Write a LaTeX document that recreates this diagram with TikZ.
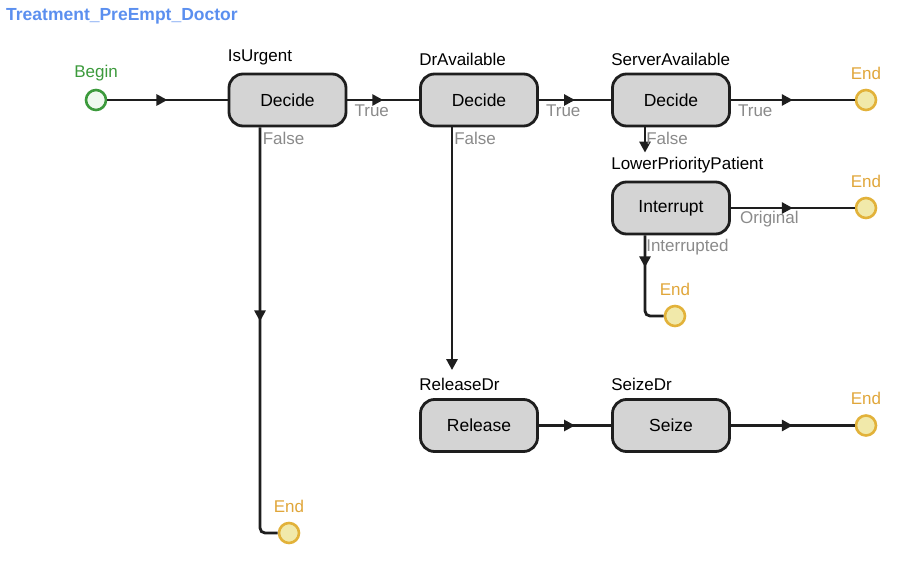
\documentclass[tikz,border=0pt]{standalone}
\usepackage{fontspec}
\setmainfont{Liberation Sans}
\usetikzlibrary{arrows.meta,decorations.markings}
\definecolor{titleblue}{HTML}{5B8FEF}
\definecolor{begingreen}{HTML}{3C9A3C}
\definecolor{beginfill}{HTML}{EEF9EE}
\definecolor{endstroke}{HTML}{E2B23A}
\definecolor{endfill}{HTML}{F1E9AA}
\definecolor{endtext}{HTML}{E0A63A}
\definecolor{boxfill}{HTML}{D4D4D4}
\definecolor{boxline}{HTML}{1E1E1E}
\definecolor{edgelabel}{HTML}{8A8A8A}
\tikzset{
  stepbox/.style={draw=boxline, line width=2.8pt, fill=boxfill, rounded corners=14pt,
    minimum width=117pt, minimum height=52pt, inner sep=0pt, font=\fontsize{17.5}{20}\selectfont},
  beginnode/.style={circle, draw=begingreen, line width=2.6pt, fill=beginfill, minimum size=20pt, inner sep=0pt},
  endnode/.style={circle, draw=endstroke, line width=2.6pt, fill=endfill, minimum size=20pt, inner sep=0pt},
  boxname/.style={font=\fontsize{17}{20}\selectfont, inner sep=0pt, anchor=south west},
  endname/.style={font=\fontsize{17}{20}\selectfont, text=endtext, inner sep=0pt},
  elabel/.style={font=\fontsize{17}{20}\selectfont, text=edgelabel, inner sep=0pt, anchor=west},
  flow/.style={line width=2.8pt, draw=boxline},
  midarrow/.style={flow, postaction={decorate}, decoration={markings,
    mark=at position #1 with {\arrow{Triangle[length=11pt,width=11pt]}}}},
  midarrow/.default=0.5,
  endarrow/.style={flow, -{Triangle[length=11pt,width=11pt]}},
}
\begin{document}
\begin{tikzpicture}[x=1pt,y=-1pt]
\useasboundingbox (0,0) rectangle (911,564);
% title
\node[anchor=west, inner sep=0pt, text=titleblue, font=\bfseries\fontsize{17.5}{20}\selectfont] (title) at (6,16) {Treatment\_PreEmpt\_Doctor};
% nodes
\node[beginnode] (begin) at (96,100) {};
\node[font=\fontsize{17}{20}\selectfont, text=begingreen, inner sep=0pt] (beginlbl) at (96,73) {Begin};

\node[stepbox] (isurgent) at (287.5,100) {Decide};
\node[stepbox] (dravail) at (479,100) {Decide};
\node[stepbox] (servavail) at (671,100) {Decide};
\node[stepbox] (lpp) at (671,208) {Interrupt};
\node[stepbox] (release) at (479,425.5) {Release};
\node[stepbox] (seize) at (671,425.5) {Seize};

\node[boxname] (isurgentlbl) at ([yshift=7pt]isurgent.north west) {IsUrgent};
\node[boxname] (dravaillbl) at ([yshift=7pt]dravail.north west) {DrAvailable};
\node[boxname] (servavaillbl) at ([yshift=7pt]servavail.north west) {ServerAvailable};
\node[boxname] (lpplbl) at ([yshift=7pt]lpp.north west) {LowerPriorityPatient};
\node[boxname] (releaselbl) at ([yshift=7pt]release.north west) {ReleaseDr};
\node[boxname] (seizelbl) at ([yshift=7pt]seize.north west) {SeizeDr};

\node[endnode] (end1) at (866,100) {};
\node[endnode] (end2) at (866,208) {};
\node[endnode] (end3) at (675,316) {};
\node[endnode] (end4) at (866,425.5) {};
\node[endnode] (end5) at (289,533) {};
\foreach \e in {end1,end2,end3,end4,end5}
  \node[endname] (\e lbl) at ([yshift=27pt]\e.center) {End};

% connectors
\draw[midarrow] (begin) -- (isurgent);
\draw[midarrow] (isurgent) -- (dravail);
\draw[midarrow] (dravail) -- (servavail);
\draw[midarrow] (servavail) -- (end1);
\draw[midarrow] (lpp) -- (end2);
\draw[midarrow] (release) -- (seize);
\draw[midarrow] (seize) -- (end4);
\draw[endarrow, shorten >=28pt] ([xshift=-26pt]servavail.south) -- ([xshift=-26pt]lpp.north);
\draw[endarrow, shorten >=28pt] ([xshift=-27pt]dravail.south) -- ([xshift=-27pt]release.north);
\draw[midarrow=32pt, rounded corners=5pt] ([xshift=-26pt]lpp.south) |- (end3);
\draw[midarrow=194pt, rounded corners=5pt] ([xshift=-27.5pt]isurgent.south) |- (end5);

% connector labels
\node[elabel] (t1) at ([shift={(7pt,-11pt)}]isurgent.east) {True};
\node[elabel] (t2) at ([shift={(7pt,-11pt)}]dravail.east) {True};
\node[elabel] (t3) at ([shift={(7pt,-11pt)}]servavail.east) {True};
\node[elabel] (f1) at ([shift={(35pt,-11pt)}]isurgent.south west) {False};
\node[elabel] (f2) at ([shift={(35pt,-11pt)}]dravail.south west) {False};
\node[elabel] (f3) at ([shift={(35pt,-11pt)}]servavail.south west) {False};
\node[elabel] (orig) at ([shift={(9pt,-11pt)}]lpp.east) {Original};
\node[elabel] (intr) at ([shift={(35pt,-12pt)}]lpp.south west) {Interrupted};
\end{tikzpicture}
\end{document}
